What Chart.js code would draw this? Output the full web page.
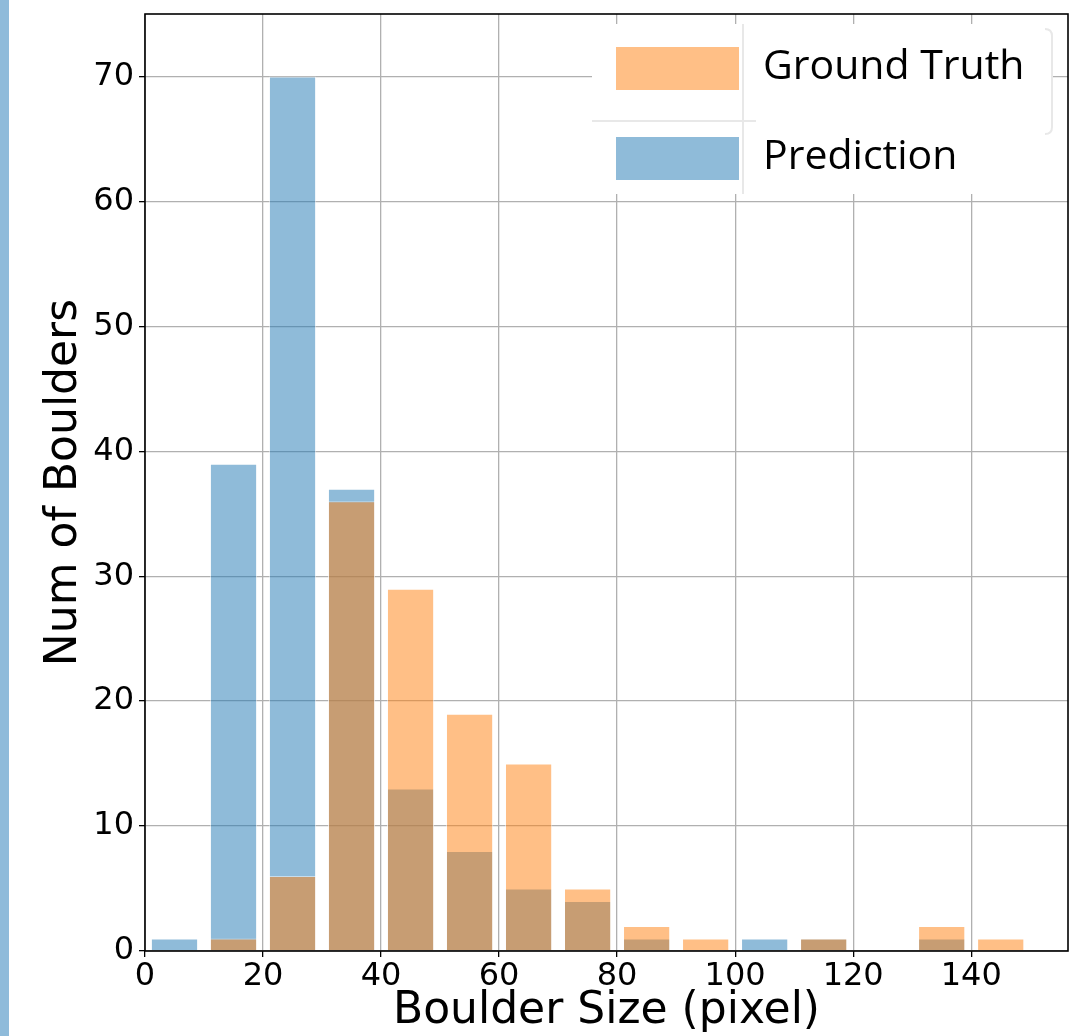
<!DOCTYPE html>
<html>
<head>
<meta charset="utf-8">
<script src="https://cdn.jsdelivr.net/npm/chart.js@4.4.0/dist/chart.umd.min.js"></script>
<style>
  body { margin: 0; background: #fff; }
  #wrap { position: relative; width: 1072px; height: 1036px; }
  #strip { position: absolute; left: 0; top: 0; width: 9px; height: 1036px; background: #8fbbda; }
</style>
</head>
<body>
<div id="wrap">
  <canvas id="histChart" width="1072" height="1036"></canvas>
  <div id="strip"></div>
</div>
<script>
// histogram bins (centre of each 10 px bin)
const binCenters = [5, 15, 25, 35, 45, 55, 65, 75, 85, 95, 105, 115, 125, 135, 145];
const groundTruth = [0, 1, 6, 36, 29, 19, 15, 5, 2, 1, 0, 1, 0, 2, 1];
const prediction = [1, 39, 70, 37, 13, 8, 5, 4, 1, 0, 1, 1, 0, 1, 0];
const xTicks = [0, 20, 40, 60, 80, 100, 120, 140];
const yTicks = [0, 10, 20, 30, 40, 50, 60, 70];

const orange = "rgba(255, 127, 14, 0.5)";
const blue = "rgba(31, 119, 180, 0.5)";
const gridColor = "#b0b0b0";
const tickFont = { family: "DejaVu Sans", size: 32 };
const titleFont = { family: "DejaVu Sans", size: 44, lineHeight: 1 };

// frame round the plot + the legend box in the upper right
const framePlugin = {
  id: "frame",
  afterDraw(chart) {
    const { ctx, chartArea: a } = chart;
    ctx.save();
    ctx.strokeStyle = "#000";
    ctx.lineWidth = 1.6;
    ctx.strokeRect(a.left, a.top, a.right - a.left, a.bottom - a.top);

    // legend
    const lx = a.right - 476, ly = a.top + 10;
    ctx.fillStyle = "#fff";
    ctx.fillRect(lx, ly, 460, 170);
    ctx.strokeStyle = "#e8e8e8";
    ctx.lineWidth = 2;
    ctx.beginPath();
    ctx.moveTo(lx + 151, ly);
    ctx.lineTo(lx + 151, ly + 170);
    ctx.moveTo(lx, ly + 97);
    ctx.lineTo(lx + 164, ly + 97);
    ctx.moveTo(lx + 453, ly + 5);
    ctx.quadraticCurveTo(lx + 460, ly + 5, lx + 460, ly + 12);
    ctx.lineTo(lx + 460, ly + 103);
    ctx.quadraticCurveTo(lx + 460, ly + 110, lx + 453, ly + 110);
    ctx.stroke();

    const items = chart.data.datasets;
    ctx.font = "41px 'Open Sans'";
    ctx.textBaseline = "alphabetic";
    items.forEach((ds, i) => {
      const y = ly + 23 + i * 90;
      ctx.fillStyle = ds.backgroundColor;
      ctx.fillRect(lx + 24, y, 123, 43);
      ctx.fillStyle = "#000";
      ctx.fillText(ds.label, lx + 171, y + 32);
    });
    ctx.restore();
  }
};

const ctz = document.getElementById("histChart");
const canvas = ctz.getContext("2d");

const histChart = new Chart(canvas, {
  type: "bar",
  data: {
    datasets: [
      {
        label: "Ground Truth",
        data: binCenters.map((x, i) => ({ x: x, y: groundTruth[i] })),
        backgroundColor: orange,
        borderColor: "rgba(255, 255, 255, 0.5)",
        borderWidth: 1,
        grouped: false,
        barPercentage: 0.8,
        categoryPercentage: 1,
      },
      {
        label: "Prediction",
        data: binCenters.map((x, i) => ({ x: x, y: prediction[i] })),
        backgroundColor: blue,
        borderColor: "rgba(255, 255, 255, 0.5)",
        borderWidth: 1,
        grouped: false,
        barPercentage: 0.8,
        categoryPercentage: 1,
      },
    ],
  },
  options: {
    responsive: false,
    animation: false,
    layout: { padding: { top: 14, right: 4, left: 0, bottom: 0 } },
    plugins: {
      legend: { display: false },
      tooltip: { enabled: false },
    },
    scales: {
      x: {
        type: "linear",
        min: 0,
        max: 156.4,
        offset: false,
        z: 1,
        afterBuildTicks: (s) => { s.ticks = xTicks.map((v) => ({ value: v })); },
        afterFit: (s) => { s.height = 85; s.paddingLeft = 0; s.paddingRight = 0; },
        ticks: { font: tickFont, color: "#000", padding: 0, maxRotation: 0, autoSkip: false },
        grid: { offset: false, color: gridColor, lineWidth: 1.3, tickLength: 6, tickColor: "#000", tickWidth: 1.3 },
        border: { display: false },
        title: {
          display: true,
          text: "Boulder Size (pixel)",
          font: titleFont,
          color: "#000",
          padding: { top: 0, bottom: 2 },
        },
      },
      y: {
        min: 0,
        max: 75,
        z: 1,
        afterBuildTicks: (s) => { s.ticks = yTicks.map((v) => ({ value: v })); },
        afterFit: (s) => { s.width = 145; s.paddingTop = 0; s.paddingBottom = 0; },
        ticks: { font: tickFont, color: "#000", padding: 5 },
        grid: { color: gridColor, lineWidth: 1.3, tickLength: 6, tickColor: "#000", tickWidth: 1.3 },
        border: { display: false },
        title: {
          display: true,
          text: "Num of Boulders",
          font: titleFont,
          color: "#000",
          padding: { top: 43, bottom: 0 },
        },
      },
    },
  },
  plugins: [framePlugin],
});
</script>
</body>
</html>
